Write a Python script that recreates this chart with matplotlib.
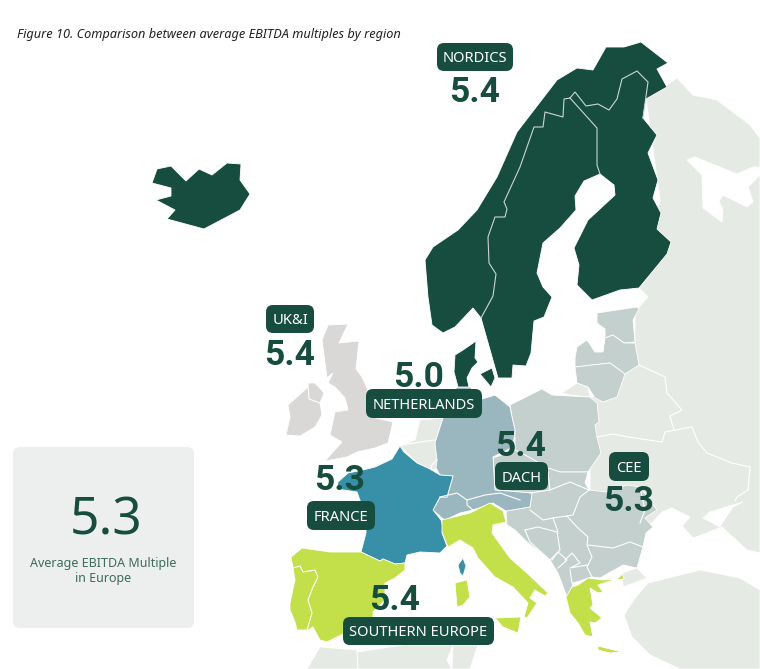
import matplotlib
matplotlib.use("Agg")
import matplotlib.pyplot as plt
from matplotlib.patches import Polygon, FancyBboxPatch

# region names and multiples
region_names = ["NORDICS", "UK&I", "NETHERLANDS", "FRANCE", "DACH", "CEE", "SOUTHERN EUROPE"]
region_values = ["5.4", "5.4", "5.0", "5.3", "5.4", "5.3", "5.4"]
europe_value = "5.3"
europe_text = ["Average EBITDA Multiple", "in Europe"]
title_text = "Figure 10. Comparison between average EBITDA multiples by region"

# map outlines
iceland = [(152,183),(157,169),(171,166),(186,181),(199,169),(212,175),(227,163),(241,164),(240,180),(250,194),
           (240,210),(204,229),(167,219),(175,210),(156,200),(171,196),(171,188)]
scandinavia = [(425,260),(433,247),(458,230),(477,210),(497,177),(517,132),(557,80),(577,68),(593,70),(606,47),
               (624,47),(641,42),(668,63),(657,69),(667,87),(646,99),(643,118),(657,135),(648,153),(658,180),
               (653,198),(661,213),(657,229),(671,242),(667,254),(639,288),(620,290),(592,300),(577,285),(579,265),
               (574,248),(582,232),(588,220),(615,195),(614,185),(600,174),(584,181),(575,196),(576,210),(560,228),
               (543,243),(537,273),(543,287),(552,297),(544,317),(534,321),(531,353),(526,366),(513,365),(512,378),
               (498,378),(481,318),(473,308),(455,327),(443,333),(432,325),(428,297)]
norway_sweden = [(481,318),(493,296),(496,274),(489,263),(488,237),(495,217),(505,217),(507,209),(504,202),(520,167),
                 (534,127),(543,127),(545,112),(563,117),(564,99),(570,98)]
norway_finland = [(570,98),(575,92),(586,106),(598,104),(609,110),(617,99),(622,79),(637,71),(648,82),(643,118)]
sweden_finland = [(570,98),(597,128),(597,165),(600,174)]
denmark = [(455,355),(463,350),(476,341),(475,358),(478,362),(472,368),(467,378),(469,387),(458,387),(454,372)]
zealand = [(480,374),(492,368),(495,378),(491,387)]
britain = [(328,325),(348,324),(339,343),(359,341),(356,369),(362,377),(367,388),(367,397),(372,417),(393,422),
           (388,443),(375,448),(357,452),(347,457),(325,461),(342,442),(330,435),(335,412),(348,410),(345,398),
           (335,387),(328,383),(333,373),(327,378),(322,340)]
ireland = [(308,383),(315,383),(324,393),(320,403),(322,415),(315,427),(300,436),(286,435),(290,417),(288,405),(307,388)]
ulster_line = [(308,383),(309,399),(320,403)]
france = [(400,446),(404,452),(417,463),(430,469),(440,475),(453,476),(447,497),(440,497),(433,510),(441,520),
          (443,527),(442,533),(447,546),(440,553),(420,552),(407,555),(405,563),(395,564),(383,559),(380,561),
          (361,552),(366,533),(366,517),(357,492),(337,489),(338,482),(348,473),(363,470),(375,467),(392,459)]
corsica = [(463,558),(466,566),(463,576),(460,573),(458,565)]
dach = [(457,387),(470,387),(482,399),(495,395),(510,407),(512,417),(515,430),(513,447),(493,457),(495,490),
        (532,493),(530,507),(506,511),(493,503),(473,510),(460,513),(445,520),(442,518),(433,510),(440,497),
        (447,497),(453,476),(440,475),(436,468),(437,460),(435,443),(443,418),(448,400)]
swiss_line = [(440,497),(457,493),(467,500),(467,505),(473,510)]
austria_line = [(467,500),(485,495),(500,493),(520,500)]
benelux = [(443,418),(420,420),(415,440),(400,446),(417,463),(430,469),(437,470),(437,460),(435,443)]
belgium_line = [(402,445),(420,442),(435,440)]
lux_line = [(437,460),(431,466),(432,470)]
estonia = [(597,313),(637,307),(639,309),(633,320),(635,342),(624,343),(613,335),(605,338),(605,329),(597,323)]
latvia = [(575,358),(577,347),(587,340),(595,352),(603,352),(605,338),(613,335),(624,343),(635,343),(639,365),
          (625,374),(610,363),(575,367)]
lithuania = [(575,367),(610,363),(625,374),(617,397),(603,402),(595,398),(588,387),(577,383)]
poland = [(510,405),(542,389),(552,395),(590,397),(597,403),(599,422),(595,425),(597,437),(601,453),(588,472),
          (560,472),(548,468),(525,455),(515,450),(515,430),(512,417)]
cee_south = [(493,458),(515,450),(525,455),(548,468),(560,472),(588,472),(585,483),(589,490),(607,492),(627,485),
             (640,487),(657,510),(645,518),(653,527),(646,533),(643,547),(637,568),(623,565),(600,578),(592,577),
             (573,583),(572,587),(567,597),(558,573),(550,560),(527,542),(515,530),(507,525),(506,511),(530,507),
             (532,493),(495,490)]
cee_lines = [[(530,493),(550,490),(570,482),(589,490)],
             [(589,490),(580,497),(573,515),(567,516),(553,518),(543,520),(530,510)],
             [(588,545),(613,548),(630,542),(643,547)],
             [(567,516),(577,527),(588,537),(587,545),(592,557),(587,567),(592,577)],
             [(525,530),(538,527),(557,532),(560,550),(550,560)],
             [(525,530),(530,542),(550,560)],
             [(553,518),(558,532)],
             [(552,560),(558,552),(567,560),(558,568)],
             [(565,560),(572,553),(580,563),(570,568),(587,565)],
             [(570,570),(572,583)],
             [(548,472),(550,490)],
             [(640,487),(645,510),(640,523)]]
light_east = [(646,99),(677,78),(693,95),(717,100),(750,125),(760,138),(760,167),(753,167),(737,174),(695,157),
              (687,160),(702,175),(703,208),(722,222),(723,210),(719,201),(723,195),(747,207),(753,202),(748,187),
              (760,175),(760,553),(747,550),(722,527),(693,538),(682,526),(690,517),(672,508),(662,512),(650,525),
              (640,525),(590,490),(590,400),(635,345),(635,310),(639,307),(648,297),(639,288),(660,200)]
azov = [(703,518),(710,512),(733,505),(743,502),(733,507),(722,523),(720,527)]
kaliningrad = [(562,393),(577,383),(588,387),(590,397),(570,395)]
belarus_line = [(639,365),(650,370),(665,377),(667,393),(682,410),(670,416),(674,430)]
ukraine_line = [(597,437),(613,434),(628,437),(662,442),(665,432),(692,427),(698,442),(707,453),(732,463),(750,467),
                (748,490),(737,497),(735,501)]
thrace = [(622,573),(637,568),(647,578),(623,587)]
anatolia = [(648,583),(668,578),(700,570),(740,578),(760,590),(760,669),(680,669),(650,655),(632,637),(624,615),(635,598)]
morocco = [(307,669),(320,647),(357,650),(358,669)]
algeria = [(357,652),(403,645),(453,645),(447,660),(452,669),(358,669)]
tunisia = [(453,645),(478,645),(470,669),(452,669)]
iberia = [(291,557),(302,548),(330,552),(361,552),(380,561),(383,559),(395,564),(405,563),(405,570),(395,578),
          (385,583),(385,600),(373,612),(373,617),(345,633),(327,642),(320,640),(313,627),(308,630),(297,630),
          (295,622),(290,610),(290,603),(295,580),(293,568)]
portugal_line = [(293,568),(300,566),(303,572),(315,570),(318,577),(313,587),(308,600),(312,613),(307,630)]
italy = [(442,520),(470,513),(490,503),(503,511),(506,522),(493,525),(492,533),(510,558),(527,573),(548,593),
         (545,596),(535,590),(530,598),(537,603),(527,618),(524,617),(528,603),(513,587),(495,577),(478,558),
         (473,548),(460,540),(448,547),(442,532)]
sardinia = [(455,583),(467,580),(470,597),(463,605),(457,607)]
sicily = [(495,618),(521,617),(518,633),(503,627)]
greece = [(566,597),(572,587),(578,585),(588,578),(603,580),(617,579),(623,574),(624,579),(613,580),(598,585),
          (603,592),(598,593),(590,588),(593,605),(590,608),(602,618),(595,623),(590,622),(593,637),(585,635),
          (578,623),(570,613)]
crete = [(598,646),(622,652),(610,653),(598,650)]

DARK = "#174d3e"
LIGHT = "#e6eae5"
CEE = "#c3d0cd"
DACH = "#9ab6be"
BLUE = "#3890a8"
LIME = "#c3e04a"
UK = "#dad7d7"

plt.rcParams['font.family'] = ['Noto Sans', 'DejaVu Sans']

fig = plt.figure(figsize=(7.6, 6.69), dpi=100)
ax = fig.add_axes([0, 0, 1, 1])
ax.set_xlim(0, 760)
ax.set_ylim(669, 0)
ax.axis("off")


def land(points, color):
    ax.add_patch(Polygon(points, closed=True, facecolor=color, edgecolor="white", linewidth=0.6))


def border(points, color="white", width=0.8):
    ax.plot([p[0] for p in points], [p[1] for p in points], color=color, linewidth=width)


for shape in [light_east, thrace, anatolia, morocco, algeria, tunisia, kaliningrad, benelux]:
    land(shape, LIGHT)
land(azov, "white")
for line in [belarus_line, ukraine_line, belgium_line, lux_line]:
    border(line)

for shape in [estonia, latvia, lithuania, poland, cee_south]:
    land(shape, CEE)
for line in cee_lines:
    border(line)

land(dach, DACH)
border(swiss_line)
border(austria_line)

land(france, BLUE)
land(corsica, BLUE)

for shape in [iberia, italy, sardinia, sicily, greece, crete]:
    land(shape, LIME)
border(portugal_line)

for shape in [britain, ireland]:
    land(shape, UK)
border(ulster_line)

for shape in [iceland, scandinavia, denmark, zealand]:
    land(shape, DARK)
for line in [norway_sweden, norway_finland, sweden_finland]:
    border(line, color="#c9d6d1", width=0.8)

# boxes with region name, number next to them
pill_boxes = [(437, 43, 76, 28), (266, 305, 48, 28), (366, 389, 116, 29), (307, 501, 68, 29),
              (495, 462, 53, 28), (609, 452, 40, 29), (343, 617, 151, 28)]
number_spots = [(475, 89), (290, 352), (419, 374), (340, 477), (521, 443), (629, 498), (395, 597)]

for i in range(len(region_names)):
    x, y, w, h = pill_boxes[i]
    ax.add_patch(FancyBboxPatch((x, y), w, h, boxstyle="round,pad=0,rounding_size=7",
                                facecolor=DARK, edgecolor="none", zorder=5))
    ax.text(x + w / 2, y + h / 2, region_names[i], color="white", fontsize=10.6, fontweight="bold",
            ha="center", va="center_baseline", zorder=6)
    ax.text(number_spots[i][0], number_spots[i][1], region_values[i], color=DARK, fontsize=25.5,
            fontweight="bold", family="Roboto", ha="center", va="center_baseline", zorder=6)

# average box
ax.add_patch(FancyBboxPatch((13, 447), 181, 181, boxstyle="round,pad=0,rounding_size=7",
                            facecolor="#eceFee", edgecolor="none"))
ax.text(106, 515, europe_value, color=DARK, fontsize=37, fontweight="bold", ha="center", va="center_baseline")
ax.text(103.5, 562, europe_text[0], color="#3d6b5e", fontsize=9, ha="center", va="center_baseline")
ax.text(103.5, 577, europe_text[1], color="#3d6b5e", fontsize=9, ha="center", va="center_baseline")

ax.text(17, 33, title_text, fontsize=9.2, style="italic", color="#222222", ha="left", va="center_baseline")

fig.savefig("out.png", dpi=100)
